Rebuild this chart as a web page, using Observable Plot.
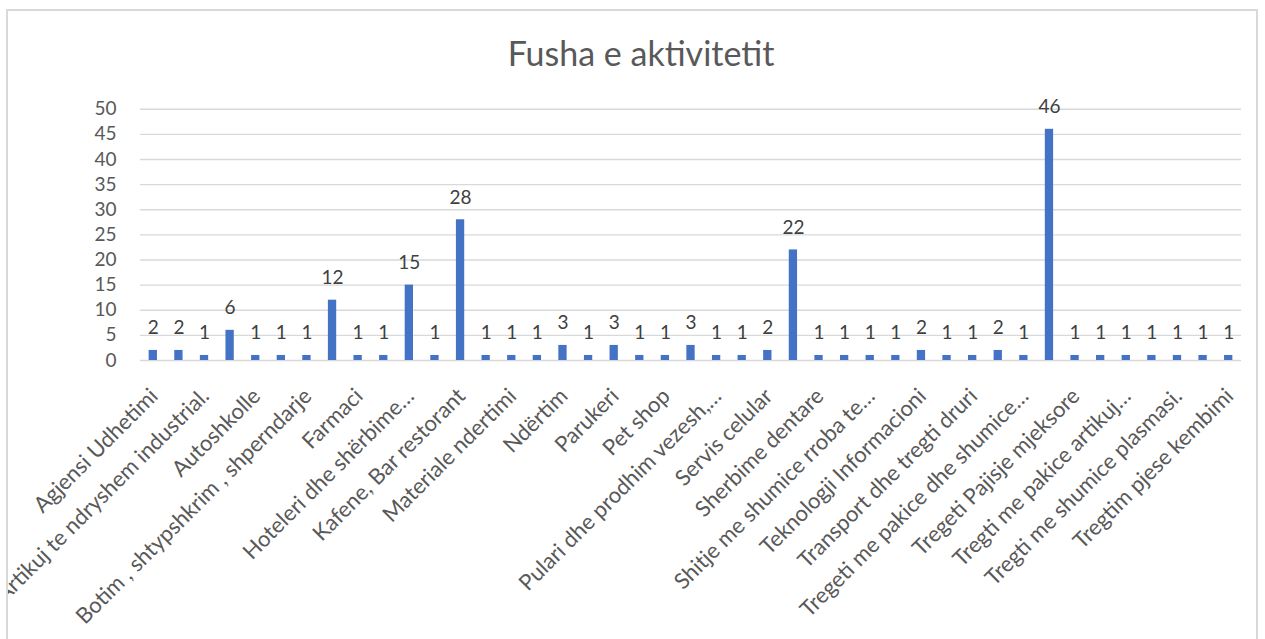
<!DOCTYPE html>
<html><head><meta charset="utf-8">
<script src="https://cdn.jsdelivr.net/npm/d3@7"></script>
<script src="https://cdn.jsdelivr.net/npm/@observablehq/plot@0.6"></script>
<style>
body{margin:0;background:#fff;font-family:Lato,sans-serif;}
#frame{position:absolute;left:6px;top:9px;width:1252px;height:640px;border:2px solid #d9d9d9;box-sizing:border-box;overflow:hidden;background:#fff;}
#title{position:absolute;left:633px;top:22px;transform:translateX(-50%);font-size:34px;line-height:40px;color:#595959;white-space:nowrap;}
#chart{position:absolute;left:0;top:80px;}
</style></head><body>
<div id="frame"><div id="title">Fusha e aktivitetit</div><div id="chart"></div></div>
<script>
// Values of the 43 bars, left to right
const values = [2, 2, 1, 6, 1, 1, 1, 12, 1, 1, 15, 1, 28, 1, 1, 1, 3, 1, 3, 1, 1, 3, 1, 1, 2, 22, 1, 1, 1, 1, 2, 1, 1, 2, 1, 46, 1, 1, 1, 1, 1, 1, 1];
// Category labels shown on the axis (every other bar, starting with the first)
const shownCategories = [
  "Agjensi Udhetimi",
  "Artikuj te ndryshem industrial.",
  "Autoshkolle",
  "Botim , shtypshkrim , shperndarje",
  "Farmaci",
  "Hoteleri dhe shërbime…",
  "Kafene, Bar restorant",
  "Materiale ndertimi",
  "Ndërtim",
  "Parukeri",
  "Pet shop",
  "Pulari dhe prodhim vezesh,…",
  "Servis celular",
  "Sherbime dentare",
  "Shitje me shumice rroba te…",
  "Teknologji Informacioni",
  "Transport dhe tregti druri",
  "Tregeti me pakice dhe shumice…",
  "Tregeti Pajisje mjeksore",
  "Tregti me pakice artikuj…",
  "Tregti me shumice plasmasi.",
  "Tregtim pjese kembimi"
];
const yTicks = [0, 5, 10, 15, 20, 25, 30, 35, 40, 45, 50];

const data = values.map((v, i) => ({i, v}));
const idx = values.map((v, i) => i);
const labelData = shownCategories.map((name, k) => ({i: idx[k * 2], name}));

const chart = Plot.plot({
  width: 1248,
  height: 548,
  marginLeft: 132,
  marginRight: 15,
  marginTop: 17.7,
  marginBottom: 279,
  style: {fontFamily: "Lato, sans-serif", fontSize: "19px", color: "#595959", background: "transparent", overflow: "visible"},
  x: {type: "band", domain: idx, padding: 0, round: false, axis: null},
  y: {domain: [0, 50], axis: null},
  marks: [
    Plot.ruleY(yTicks, {stroke: "#d9d9d9", strokeWidth: 1.4}),
    Plot.barY(data, {x: "i", y: "v", fill: "#4472c4", insetLeft: 8.65, insetRight: 8.65}),
    Plot.text(data, {x: "i", y: "v", text: d => String(d.v), lineAnchor: "bottom", dy: -16, fill: "#404040", fontSize: 19}),
    Plot.axisY({ticks: yTicks, tickSize: 0, tickPadding: 24, fontSize: 19, fill: "#595959", label: null}),
    Plot.text(labelData, {x: "i", frameAnchor: "bottom", text: "name", rotate: -45, textAnchor: "end", lineAnchor: "middle", dy: 32, dx: 1, fontSize: 22, fill: "#595959"})
  ]
});
document.getElementById("chart").appendChild(chart);
</script>
</body></html>
